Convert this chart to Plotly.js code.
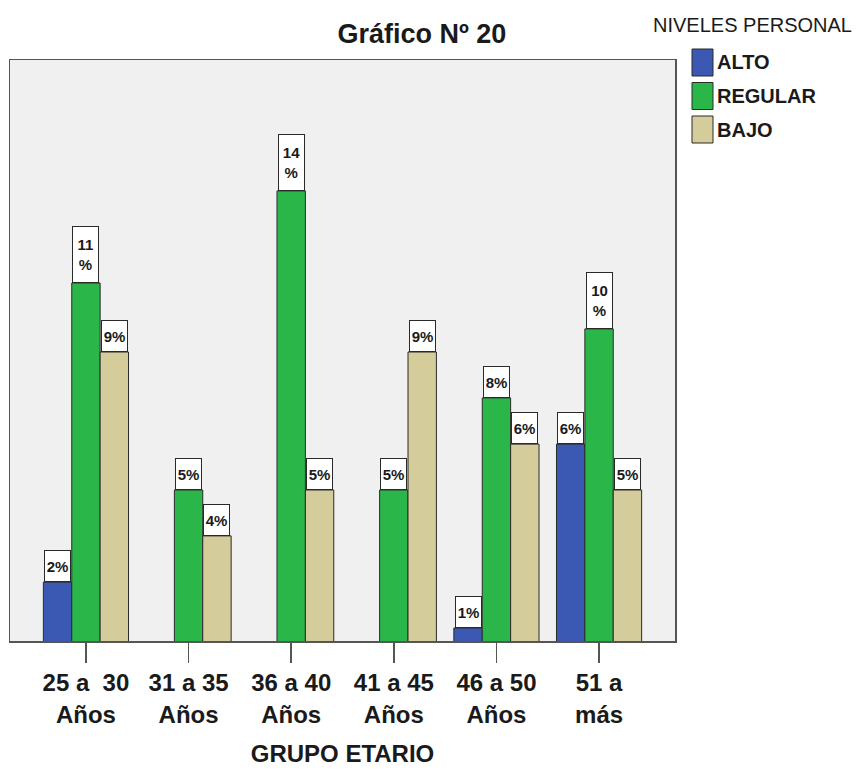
<!DOCTYPE html>
<html><head><meta charset="utf-8">
<script src="https://cdn.plot.ly/plotly-3.0.1.min.js"></script>
<style>body{margin:0;background:#fff}</style>
</head><body><div id="chart" style="width:861px;height:771px"></div>
<script>
// ---- data ----
const categories = ["25 a\u00a0\u00a030<br>Años", "31 a 35<br>Años", "36 a 40<br>Años", "41 a 45<br>Años", "46 a 50<br>Años", "51 a<br>más"];
const seriesNames = ["ALTO", "REGULAR", "BAJO"];
const alto    = [2.33, null, null, null, 1.0, 6.33];
const regular = [11.0, 5.0, 13.67, 5.0, 7.67, 9.67];
const bajo    = [9.0, 3.67, 5.0, 9.0, 6.33, 5.0];
const altoLabels    = ["2%", "", "", "", "1%", "6%"];
const regularLabels = ["11<br>%", "5%", "14<br>%", "5%", "8%", "10<br>%"];
const bajoLabels    = ["9%", "4%", "5%", "9%", "6%", "5%"];

// ---- style ----
const colors = ["#3b59b3", "#2bb64a", "#d5cc9b"];
const FONT = "Liberation Sans, Arial, sans-serif";
const W = 861, H = 771, L = 10, R = 675, T = 60, B = 641;
const px = x => (x - L) / (R - L);
const py = y => (B - y) / (B - T);
const bargap = 0.17;
const barW = (1 - bargap) / 3;

const values = [alto, regular, bajo];
const labels = [altoLabels, regularLabels, bajoLabels];

const traces = values.map((v, t) => ({
  type: "bar", name: seriesNames[t], x: categories, y: v,
  marker: {color: colors[t], line: {color: "#2a2a2a", width: 1}},
  hoverinfo: "x+y", showlegend: false
}));

const annotations = [];
values.forEach((v, t) => {
  v.forEach((val, i) => {
    if (val === null) return;
    const two = labels[t][i].indexOf("<br>") >= 0;
    annotations.push({
      x: i + (t - 1) * barW, y: val, xref: "x", yref: "y",
      yanchor: "bottom", xanchor: "center", showarrow: false,
      text: "<b>" + labels[t][i] + "</b>",
      font: {family: FONT, size: 15, color: "#1a1a1a"},
      bgcolor: "#ffffff", bordercolor: "#2a2a2a", borderwidth: 1, borderpad: 0,
      width: 25, height: two ? 55 : 30, valign: "middle"
    });
  });
});

// manual legend
const shapes = [];
annotations.push({
  xref: "paper", yref: "paper", x: px(651), y: py(25), xanchor: "left", yanchor: "middle",
  text: "NIVELES PERSONAL", showarrow: false, font: {family: FONT, size: 20, color: "#1a1a1a"}
});
seriesNames.forEach((n, t) => {
  const top = 49 + t * 33.5;
  shapes.push({type: "rect", xref: "paper", yref: "paper",
    x0: px(692), x1: px(713), y0: py(top + 27), y1: py(top),
    fillcolor: colors[t], line: {color: "#2a2a2a", width: 1}});
  annotations.push({
    xref: "paper", yref: "paper", x: px(715), y: py(top + 13.5), xanchor: "left", yanchor: "middle",
    text: "<b>" + n + "</b>", showarrow: false, font: {family: FONT, size: 20, color: "#1a1a1a"}
  });
});

const layout = {
  width: W, height: H,
  margin: {l: L, r: W - R, t: T, b: H - B, pad: 0},
  paper_bgcolor: "#ffffff", plot_bgcolor: "#f0f0f0",
  title: {text: "<b>Gráfico Nº 20</b>", x: 0.49, xref: "container", xanchor: "center",
          y: 1 - 34 / H, yref: "container", yanchor: "middle",
          font: {family: FONT, size: 27, color: "#1a1a1a"}},
  barmode: "group", bargap: bargap, bargroupgap: 0,
  xaxis: {type: "category", range: [-0.74, 5.74], showline: true, mirror: true,
          linecolor: "#555", linewidth: 1.5, ticks: "outside", ticklen: 20,
          tickcolor: "#555", tickwidth: 1.5, showgrid: false,
          tickfont: {family: FONT, size: 24, color: "#1a1a1a"},
          title: {text: "<b>GRUPO ETARIO</b>", standoff: 18,
                  font: {family: FONT, size: 24, color: "#1a1a1a"}}},
  yaxis: {range: [0.623, 0.623 + (B - T) / 34.5], showline: true, mirror: true,
          linecolor: "#555", linewidth: 1.5, showgrid: false, zeroline: false,
          showticklabels: false, ticks: ""},
  shapes: shapes, annotations: annotations, showlegend: false
};

// bold tick labels
layout.xaxis.ticktext = categories.map(c => "<b>" + c + "</b>");
layout.xaxis.tickvals = categories;
layout.xaxis.tickmode = "array";

Plotly.newPlot("chart", traces, layout, {displayModeBar: false, staticPlot: true});
</script></body></html>
